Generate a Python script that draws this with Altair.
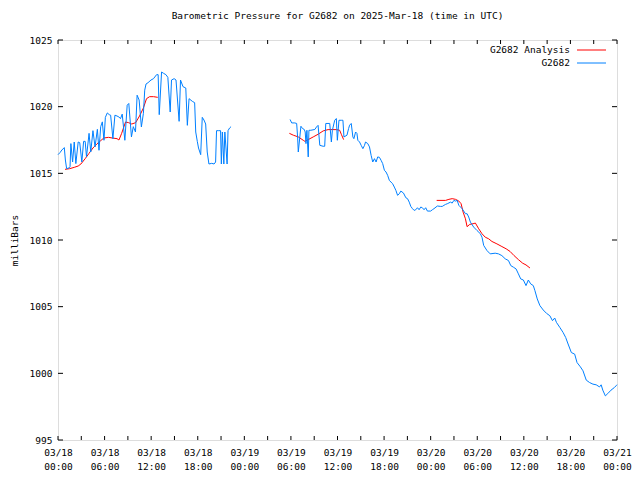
import altair as alt
import pandas as pd

# hours since 2025-03-18 00:00 UTC
blue1_t = [0.0, 0.25, 0.5, 0.81, 0.95, 1.11, 1.4, 1.55, 1.66, 1.88, 2.09, 2.3, 2.6, 2.8, 3.07, 3.3, 3.5, 3.67,
           4.0, 4.22, 4.5, 4.77, 5.07, 5.28, 5.5, 5.71, 5.92, 6.1, 6.35, 6.6, 6.78, 7.07, 7.33, 7.6, 7.84, 8.05,
           8.27, 8.61, 8.91, 9.12, 9.46, 9.7, 9.98, 10.19, 10.45, 10.74, 11.0, 11.17, 11.34, 11.6, 11.98, 12.3,
           12.7, 12.9, 13.04, 13.34, 13.6, 13.9, 14.15, 14.45, 14.62, 14.96, 15.2, 15.6, 15.78, 16.1, 16.46,
           16.66, 16.88, 17.3, 17.6, 17.74, 17.94, 18.1, 18.38, 18.58, 18.8, 19.02, 19.22, 19.44, 19.8, 20.1,
           20.3, 20.42, 20.7, 20.94, 21.04, 21.17, 21.36, 21.49, 21.78, 21.9, 22.1, 22.29]
blue1_v = [1016.4, 1016.55, 1016.75, 1016.93, 1016.0, 1015.35, 1015.4, 1015.5, 1017.23, 1015.85, 1017.35, 1015.73,
           1017.35, 1017.3, 1015.85, 1017.4, 1017.4, 1016.23, 1018.0, 1016.6, 1018.2, 1016.98, 1018.3, 1016.73,
           1018.5, 1018.86, 1017.48, 1019.2, 1019.53, 1019.4, 1019.36, 1017.6, 1019.36, 1019.3, 1019.23, 1019.1,
           1019.44, 1017.48, 1020.11, 1020.24, 1017.73, 1018.5, 1018.1, 1020.86, 1020.5, 1018.48, 1019.5, 1021.24,
           1021.7, 1021.8, 1022.0, 1022.1, 1022.4, 1022.4, 1019.4, 1022.6, 1022.5, 1022.4, 1022.2, 1019.6, 1022.0,
           1022.1, 1022.0, 1018.9, 1022.0, 1021.5, 1021.4, 1018.6, 1020.6, 1020.4, 1020.3, 1018.1, 1017.4, 1016.9,
           1016.4, 1019.2, 1019.0, 1018.7, 1016.6, 1015.7, 1015.75, 1015.7, 1015.85, 1018.2, 1018.2, 1018.2,
           1015.7, 1018.1, 1015.7, 1018.1, 1015.7, 1018.2, 1018.4, 1018.5]

blue2_t = [29.89, 30.1, 30.5, 30.74, 30.86, 30.95, 31.29, 31.5, 31.72, 31.84, 31.94, 32.06, 32.23, 32.32, 32.57,
           33.08, 33.3, 33.5, 33.72, 34.15, 34.35, 34.49, 35.0, 35.21, 35.34, 35.64, 35.85, 35.98, 36.19, 36.49,
           36.7, 36.83, 37.22, 37.43, 37.56, 37.77, 37.98, 38.11, 38.33, 38.5, 38.62, 38.84, 39.05, 39.27, 39.48,
           39.61, 39.9, 40.12, 40.33, 40.54, 40.76, 40.97, 41.18, 41.4, 41.61, 41.82, 42.04, 42.25, 42.46, 42.68,
           42.88, 43.1, 43.32, 43.52, 43.74, 43.96, 44.16, 44.5, 44.8, 45.02, 45.24, 45.44, 45.66, 45.87, 46.08,
           46.3, 46.51, 46.72, 46.93, 47.15, 47.36, 47.58, 48.0, 48.22, 48.43, 48.86, 49.28, 49.49, 49.71, 49.92,
           50.14, 50.56, 50.77, 50.99, 51.2, 51.41, 51.63, 52.05, 52.48, 52.69, 52.9, 53.12, 53.54, 53.97, 54.4,
           54.61, 54.83, 55.25, 55.67, 56.31, 56.74, 57.17, 57.6, 58.02, 58.32, 58.66, 59.0, 59.3, 59.6, 59.94,
           60.28, 60.58, 60.88, 61.22, 61.43, 61.73, 62.07, 62.5, 62.92, 63.35, 63.69, 63.98, 64.2, 64.63, 65.05,
           65.39, 65.7, 66.12, 66.55, 66.85, 67.28, 67.62, 68.04, 68.47, 68.9, 69.32, 69.75, 69.96, 70.17, 70.5,
           70.81, 71.23, 71.65, 71.87, 72.0]
blue2_v = [1019.04, 1018.78, 1018.78, 1018.74, 1017.73, 1016.6, 1018.53, 1018.36, 1018.29, 1018.1, 1017.23, 1018.23,
           1016.23, 1018.23, 1018.23, 1018.29, 1018.48, 1018.6, 1017.1, 1017.03, 1017.03, 1018.74, 1018.74, 1017.35,
           1018.23, 1018.98, 1019.11, 1017.48, 1018.98, 1018.98, 1018.98, 1017.73, 1017.86, 1018.36, 1018.61,
           1018.74, 1017.73, 1017.6, 1018.1, 1018.0, 1017.48, 1017.35, 1017.1, 1016.85, 1017.1, 1017.35, 1017.23,
           1016.98, 1016.35, 1015.85, 1016.1, 1015.85, 1016.23, 1016.2, 1015.98, 1015.73, 1015.23, 1015.1, 1014.85,
           1014.47, 1014.35, 1014.22, 1013.97, 1013.72, 1013.35, 1013.47, 1013.67, 1013.52, 1013.17, 1013.1,
           1012.84, 1012.52, 1012.35, 1012.22, 1012.27, 1012.42, 1012.27, 1012.47, 1012.42, 1012.27, 1012.42,
           1012.17, 1012.17, 1012.27, 1012.35, 1012.55, 1012.52, 1012.52, 1012.6, 1012.67, 1012.72, 1012.84,
           1012.77, 1012.97, 1012.92, 1012.97, 1012.6, 1012.35, 1011.97, 1011.97, 1011.72, 1011.34, 1010.97,
           1010.71, 1010.47, 1010.21, 1009.59, 1009.21, 1008.96, 1009.01, 1008.96, 1008.83, 1008.59, 1008.46,
           1008.08, 1007.96, 1007.83, 1007.46, 1007.08, 1007.0, 1006.58, 1007.0, 1006.71, 1006.58, 1006.2, 1005.58,
           1005.08, 1004.75, 1004.5, 1004.32, 1003.95, 1004.15, 1003.82, 1003.45, 1003.07, 1002.69, 1002.2,
           1001.56, 1001.44, 1000.81, 1000.49, 1000.19, 999.49, 999.31, 999.19, 999.14, 998.98, 999.14, 998.74,
           998.31, 998.48, 998.74, 998.93, 999.06, 999.15]

red1_t = [0.9, 1.5, 2.1, 2.6, 2.95, 3.5, 4.0, 4.5, 5.0, 5.5, 5.9, 6.5, 7.0, 7.6, 7.85, 8.2, 8.7, 9.1, 9.5,
          10.0, 10.5, 11.0, 11.4, 11.8, 12.3, 12.85]
red1_v = [1015.3, 1015.35, 1015.45, 1015.55, 1015.7, 1016.1, 1016.5, 1016.9, 1017.2, 1017.45, 1017.65, 1017.7,
          1017.65, 1017.6, 1017.5, 1018.0, 1018.85, 1018.8, 1018.7, 1018.8, 1019.3, 1019.9, 1020.6, 1020.75,
          1020.75, 1020.7]
red2_t = [29.8, 30.31, 30.95, 31.59, 31.8, 32.23, 32.87, 33.5, 34.15, 34.79, 35.85, 36.28, 36.49, 36.79]
red2_v = [1018.0, 1017.86, 1017.73, 1017.48, 1017.4, 1017.53, 1017.73, 1017.93, 1018.18, 1018.28, 1018.28,
          1018.23, 1017.93, 1017.53]
red3_t = [48.77, 49.92, 50.35, 50.77, 51.2, 51.63, 51.92, 52.18, 52.48, 52.69, 53.03, 53.46, 53.76, 54.19,
          54.61, 55.03, 55.47, 55.89, 56.53, 57.17, 57.72, 58.23, 58.74, 59.3, 59.85, 60.28, 60.79]
red3_v = [1012.97, 1012.97, 1013.05, 1013.1, 1013.05, 1012.92, 1012.72, 1012.09, 1011.59, 1011.0, 1011.17,
          1011.22, 1011.27, 1010.84, 1010.47, 1010.21, 1010.09, 1009.89, 1009.71, 1009.51, 1009.34, 1009.14,
          1008.83, 1008.53, 1008.26, 1008.13, 1007.9]

x_major = list(range(0, 73, 6))
x_minor = list(range(3, 72, 6))
y_major = list(range(995, 1026, 5))
legend_labels = ["G2682 Analysis", "G2682"]
series_colors = ["#ff0000", "#0080ff"]

FONT = "DejaVu Sans Mono"
FS = 9.5
W, H = 559, 400

rows = []
for seg, (ts, vs, s) in enumerate([(red1_t, red1_v, "G2682 Analysis"), (red2_t, red2_v, "G2682 Analysis"),
                                   (red3_t, red3_v, "G2682 Analysis"), (blue1_t, blue1_v, "G2682"),
                                   (blue2_t, blue2_v, "G2682")]):
    for t, v in zip(ts, vs):
        rows.append({"t": t, "v": v, "series": s, "seg": seg})
df = pd.DataFrame(rows)

xs = alt.Scale(domain=[0, 72], nice=False, zero=False)
ys = alt.Scale(domain=[995, 1025], nice=False, zero=False)

label_expr = ("['03/' + (18 + floor(datum.value / 24)), "
              "((datum.value % 24) < 10 ? '0' : '') + (datum.value % 24) + ':00']")

base = alt.Chart(df)

red = base.transform_filter(alt.datum.series == "G2682 Analysis").mark_line(
    color=series_colors[0], strokeWidth=1).encode(
    x=alt.X("t:Q", scale=xs, axis=alt.Axis(values=x_major, labelExpr=label_expr, title=None, grid=False,
                                          ticks=False, domain=False, labelFont=FONT, labelFontSize=FS,
                                          labelColor="black", labelPadding=7, labelLineHeight=14,
                                          labelBaseline="top", labelFlush=False, labelOverlap=False)),
    y=alt.Y("v:Q", scale=ys, axis=alt.Axis(values=y_major, format="d", title="milliBars", grid=False,
                                          ticks=False, domain=False, labelFont=FONT, labelFontSize=FS,
                                          labelColor="black", labelPadding=6, titleFont=FONT,
                                          titleFontSize=FS, titleFontWeight="normal", titleColor="black",
                                          titleX=-44, titleY=200, titleAngle=-90, titleAlign="center",
                                          titleBaseline="middle")),
    detail="seg:N",
    order="t:Q",
)
blue = base.transform_filter(alt.datum.series == "G2682").mark_line(
    color=series_colors[1], strokeWidth=1).encode(
    x=alt.X("t:Q", scale=xs), y=alt.Y("v:Q", scale=ys), detail="seg:N", order="t:Q")

# inward tick marks (gnuplot style)
xt = pd.DataFrame({"t": x_major + x_minor})
xtick_bottom = alt.Chart(xt).mark_rule(color="black", strokeWidth=1).encode(
    x=alt.X("t:Q", scale=xs), y=alt.value(H), y2=alt.value(H - 4))
xtick_top = alt.Chart(xt).mark_rule(color="black", strokeWidth=1).encode(
    x=alt.X("t:Q", scale=xs), y=alt.value(0), y2=alt.value(4))
yt = pd.DataFrame({"v": y_major})
ytick_left = alt.Chart(yt).mark_rule(color="black", strokeWidth=1).encode(
    y=alt.Y("v:Q", scale=ys), x=alt.value(0), x2=alt.value(5))
ytick_right = alt.Chart(yt).mark_rule(color="black", strokeWidth=1).encode(
    y=alt.Y("v:Q", scale=ys), x=alt.value(W - 5), x2=alt.value(W))

# gnuplot-style key: label then line sample
LX = W - 47
leg_text1 = alt.Chart(pd.DataFrame({"l": [legend_labels[0]]})).mark_text(
    font=FONT, fontSize=FS, align="right", baseline="middle", color="black").encode(
    text="l:N", x=alt.value(LX), y=alt.value(10))
leg_text2 = alt.Chart(pd.DataFrame({"l": [legend_labels[1]]})).mark_text(
    font=FONT, fontSize=FS, align="right", baseline="middle", color="black").encode(
    text="l:N", x=alt.value(LX), y=alt.value(23))
leg_line1 = alt.Chart(pd.DataFrame({"l": [0]})).mark_rule(color=series_colors[0], strokeWidth=1).encode(
    x=alt.value(LX + 7), x2=alt.value(LX + 36), y=alt.value(10))
leg_line2 = alt.Chart(pd.DataFrame({"l": [0]})).mark_rule(color=series_colors[1], strokeWidth=1).encode(
    x=alt.value(LX + 7), x2=alt.value(LX + 36), y=alt.value(23))

chart = alt.layer(red, blue, xtick_bottom, xtick_top, ytick_left, ytick_right,
                  leg_text1, leg_text2, leg_line1, leg_line2).properties(
    width=W, height=H,
    title=alt.TitleParams("Barometric Pressure for G2682 on 2025-Mar-18 (time in UTC)", font=FONT,
                          fontSize=FS, fontWeight="normal", color="black", anchor="middle", offset=15),
    autosize=alt.AutoSizeParams(type="none"),
    padding={"left": 50, "top": 32, "right": 15, "bottom": 30},
).configure_view(stroke="black", strokeWidth=1).configure(background="white")

chart.save("out.html", embed_options={"renderer": "svg", "actions": False})
